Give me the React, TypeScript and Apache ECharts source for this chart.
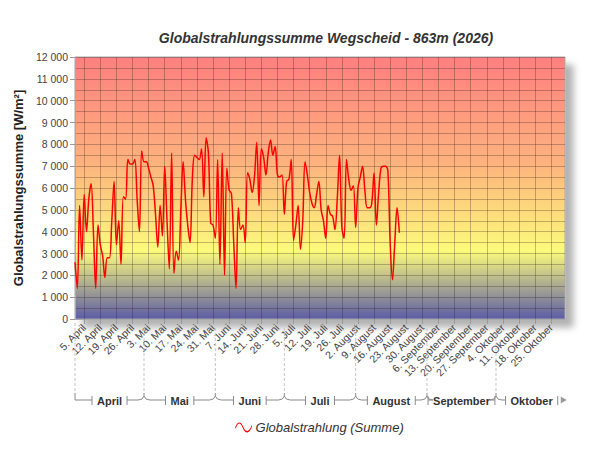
import React, { useEffect, useRef } from "react";
import * as echarts from "echarts";

const TITLE = "Globalstrahlungssumme Wegscheid - 863m (2026)";
const Y_NAME = "Globalstrahlungssumme [W/m²]";
const SERIES_NAME = "Globalstrahlung (Summe)";

const MONTHS = ["April", "Mai", "Juni", "Juli", "August", "September", "Oktober"];
const MONTH_DAYS = [30, 31, 30, 31, 31, 30, 31];
// first Sunday of the axis (5. April 2026) is index 4
const FIRST_SUNDAY_INDEX = 4;

const Y_TICKS = [0, 1000, 2000, 3000, 4000, 5000, 6000, 7000, 8000, 9000, 10000, 11000, 12000];

// daily sums from 1. April
const VALUES = [
  2600, 1400, 5200, 2700, 5700, 4000, 5500, 6200, 4000, 1400,
  4300, 3400, 2900, 1900, 2800, 2800, 4500, 6300, 3400, 4500,
  2500, 5600, 5500, 7300, 7100, 7100, 7300, 5500, 4000, 7700,
  7200, 7200, 6900, 6500, 6100, 4800, 3300, 5200, 3800, 7000,
  4500, 2300, 7600, 2100, 3100, 2700, 5000, 7200, 5500, 4300,
  3500, 6400, 7500, 7400, 7300, 7800, 5600, 8300, 7600, 4400,
  4300, 3700, 7300, 2500, 7600, 2000, 6900, 5900, 5750, 3500,
  1400, 5100, 4100, 4300, 3500, 6700, 6400, 5800, 6500, 8100,
  5200, 7800, 7400, 6600, 7600, 8200, 7500, 7900, 6600, 6500,
  6600, 4800, 6300, 6400, 7300, 3600, 4300, 5200, 3200, 4500,
  7200, 6600, 5800, 5300, 5100, 5700, 6300, 5000, 4500, 3700,
  5200, 4800, 4700, 4100, 5500, 7500, 4200, 3700, 7300, 6400,
  5900, 6100, 4200, 6000, 6500, 7000, 5900, 5100, 5100, 5300,
  6700, 4300, 5800, 6900, 7000, 7000, 6800, 3500, 1800, 3500,
  5100, 3950,
];

const CATEGORIES: string[] = [];
const MONTH_STARTS: number[] = [];
MONTHS.forEach((m, mi) => {
  MONTH_STARTS.push(CATEGORIES.length);
  for (let d = 1; d <= MONTH_DAYS[mi]; d++) CATEGORIES.push(`${d}. ${m}`);
});

const BAND_DATA = MONTHS.map((m, mi) => [
  MONTH_STARTS[mi],
  MONTH_STARTS[mi] + MONTH_DAYS[mi],
  mi,
]);

const FONT = "'Liberation Sans', Arial, sans-serif";
const GRID_LINE = "rgba(40,20,20,0.28)";

const isSunday = (idx: number) => (idx - FIRST_SUNDAY_INDEX) % 7 === 0 && idx >= FIRST_SUNDAY_INDEX;

let measureCtx: CanvasRenderingContext2D | null = null;
function textWidth(t: string, font: string) {
  if (!measureCtx) measureCtx = document.createElement("canvas").getContext("2d");
  if (!measureCtx) return t.length * 7;
  measureCtx.font = font;
  return measureCtx.measureText(t).width;
}

export default function App() {
  const ref = useRef<HTMLDivElement>(null);

  useEffect(() => {
    document.body.style.margin = "0";
    if (!ref.current) return;
    const chart = echarts.init(ref.current, undefined, { renderer: "svg" });

    const bandFont = `bold 11px ${FONT}`;

    const renderBand = (params: any, api: any) => {
      const s = api.value(0);
      const e = api.value(1);
      const mi = api.value(2);
      const name = MONTHS[mi];
      const p0 = api.coord([s, 0]);
      const step = api.size([1, 0])[0];
      const x0 = p0[0];
      const x1 = x0 + (e - s) * step;
      const yAxis = p0[1];
      const by = yAxis + 81;
      const cx = (x0 + x1) / 2;
      const tw = textWidth(name, bandFont);
      const gl = cx - tw / 2 - 5;
      const gr = cx + tw / 2 + 5;
      const lineStyle = { stroke: "#8a8a8a", lineWidth: 1, fill: null };
      const children: any[] = [];
      children.push({
        type: "line",
        shape: { x1: x0, y1: yAxis + 4, x2: x0, y2: by - 7 },
        style: { stroke: "#c4c4c4", lineWidth: 1, lineDash: [3, 2] },
      });
      if (mi === 0) {
        children.push({
          type: "polyline",
          shape: { points: [[x0, by - 7], [x0, by], [gl, by]] },
          style: lineStyle,
        });
      } else {
        children.push({
          type: "line",
          shape: { x1: x0, y1: by - 7, x2: x0, y2: by - 4 },
          style: lineStyle,
        });
        children.push({
          type: "polyline",
          shape: { points: [[x0 - 6, by], [x0 - 2, by - 1], [x0, by - 4], [x0 + 2, by - 1], [x0 + 6, by]] },
          style: lineStyle,
        });
        children.push({
          type: "line",
          shape: { x1: x0 + 6, y1: by, x2: gl, y2: by },
          style: lineStyle,
        });
      }
      children.push({
        type: "line",
        shape: { x1: gl, y1: by - 4, x2: gl, y2: by + 5 },
        style: lineStyle,
      });
      children.push({
        type: "line",
        shape: { x1: gr, y1: by - 4, x2: gr, y2: by + 5 },
        style: lineStyle,
      });
      children.push({
        type: "text",
        x: cx,
        y: by + 1,
        style: {
          text: name,
          font: bandFont,
          fill: "#333",
          align: "center",
          verticalAlign: "middle",
        },
      });
      if (mi === MONTHS.length - 1) {
        children.push({
          type: "polygon",
          shape: { points: [[gr + 3, by - 3.5], [gr + 9, by], [gr + 3, by + 3.5]] },
          style: { fill: "#9a9a9a" },
        });
      } else {
        children.push({
          type: "line",
          shape: { x1: gr, y1: by, x2: x1 - 6, y2: by },
          style: lineStyle,
        });
      }
      return { type: "group", children };
    };

    chart.setOption({
      animation: false,
      backgroundColor: "#fff",
      textStyle: { fontFamily: FONT },
      title: {
        text: TITLE,
        left: 321,
        textAlign: "center",
        top: 26,
        textStyle: {
          fontFamily: FONT,
          fontSize: 14,
          fontWeight: "bold",
          fontStyle: "italic",
          color: "#333",
        },
      },
      legend: {
        left: 230,
        top: 416,
        itemWidth: 18,
        itemHeight: 10,
        itemGap: 6,
        data: [
          {
            name: SERIES_NAME,
            icon: "path://M0,6 C2,0 5,0 7,5 C9,10 12,10 14,4 L14.6,4.4 C12.5,11.5 8.5,11.5 6.3,5.4 C4.6,1 2.4,1 0.7,6.4 Z",
            itemStyle: { color: "#ff0000" },
          },
        ],
        textStyle: {
          fontFamily: FONT,
          fontSize: 13,
          fontStyle: "italic",
          color: "#333",
          padding: [0, 0, 0, -2],
        },
      },
      grid: {
        left: 75,
        right: 35,
        top: 57,
        bottom: 131,
        show: true,
        borderColor: "#a8a8a8",
        borderWidth: 1,
        backgroundColor: new echarts.graphic.LinearGradient(0, 0, 0, 1, [
          { offset: 0, color: "#ff7f7f" },
          { offset: 0.4, color: "#fdb27e" },
          { offset: 0.74, color: "#fcfb7c" },
          { offset: 1, color: "#5c5ca6" },
        ]),
        shadowColor: "rgba(0,0,0,0.3)",
        shadowBlur: 7,
        shadowOffsetX: 8,
        shadowOffsetY: 8,
      },
      xAxis: {
        type: "category",
        data: CATEGORIES,
        boundaryGap: false,
        axisLine: { show: true, lineStyle: { color: "#a8a8a8" } },
        axisTick: {
          show: true,
          length: 5,
          interval: (idx: number) => isSunday(idx),
          lineStyle: { color: "#999" },
        },
        axisLabel: {
          interval: (idx: number) => isSunday(idx),
          rotate: 45,
          margin: 7,
          fontSize: 10.5,
          fontFamily: FONT,
          color: "#444",
        },
        splitLine: {
          show: true,
          interval: (idx: number) => isSunday(idx),
          lineStyle: { color: GRID_LINE, width: 1 },
        },
      },
      yAxis: {
        type: "value",
        min: Y_TICKS[0],
        max: Y_TICKS[Y_TICKS.length - 1],
        interval: Y_TICKS[1] - Y_TICKS[0],
        name: Y_NAME,
        nameLocation: "middle",
        nameRotate: 90,
        nameGap: 39,
        nameTextStyle: {
          fontFamily: FONT,
          fontSize: 13,
          fontWeight: "bold",
          color: "#222",
        },
        axisLine: { show: true, lineStyle: { color: "#a8a8a8" } },
        axisTick: { show: true, length: 5, lineStyle: { color: "#999" } },
        axisLabel: {
          margin: 7,
          fontSize: 10.5,
          fontFamily: FONT,
          color: "#444",
          formatter: (v: number) => String(v).replace(/\B(?=(\d{3})+(?!\d))/g, " "),
        },
        splitLine: { show: true, lineStyle: { color: GRID_LINE, width: 1 } },
        minorTick: { show: false, splitNumber: 2 },
        minorSplitLine: { show: true, lineStyle: { color: GRID_LINE, width: 1 } },
      },
      series: [
        {
          name: SERIES_NAME,
          type: "line",
          data: VALUES,
          smooth: 0.35,
          showSymbol: false,
          symbol: "none",
          lineStyle: { color: "#ff0000", width: 1.5 },
          itemStyle: { color: "#ff0000" },
          z: 5,
        },
        {
          name: "months",
          type: "custom",
          data: BAND_DATA,
          renderItem: renderBand,
          clip: false,
          silent: true,
          encode: { x: 0, y: 1 },
          z: 1,
        },
      ],
    });

    return () => chart.dispose();
  }, []);

  return <div ref={ref} style={{ width: 600, height: 450 }} />;
}
